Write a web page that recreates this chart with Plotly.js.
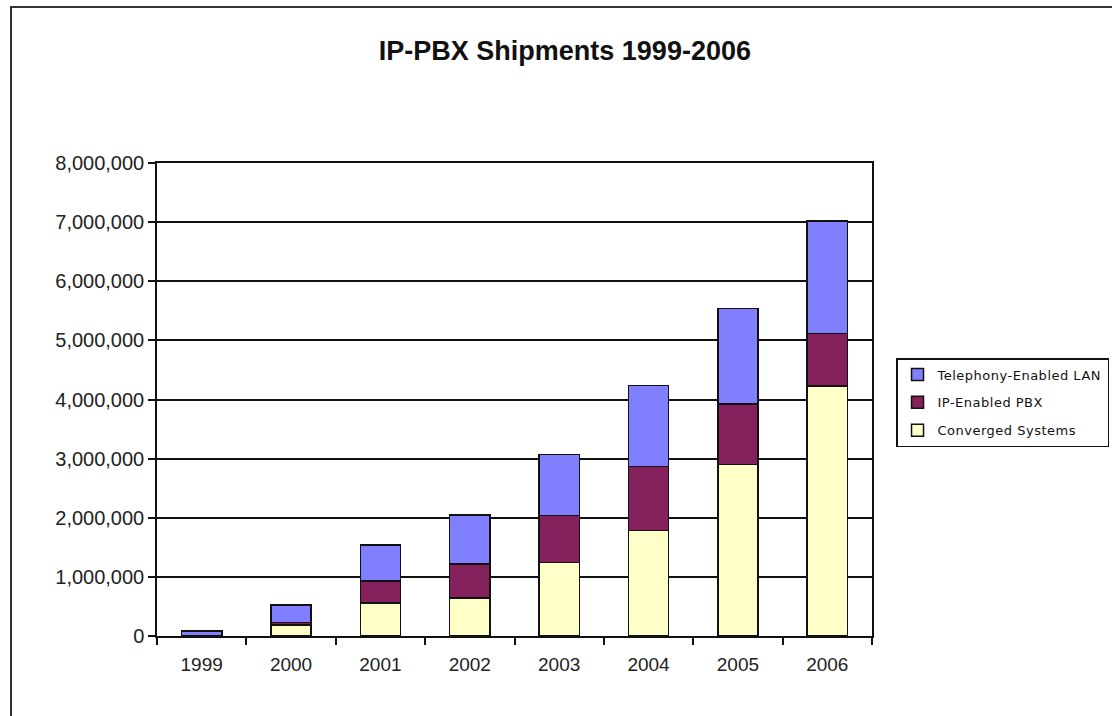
<!DOCTYPE html>
<html>
<head>
<meta charset="utf-8">
<script src="https://cdn.plot.ly/plotly-3.0.1.min.js"></script>
<style>
  html, body { margin: 0; padding: 0; background: #fff; overflow: hidden; }
  #chart { position: absolute; left: 0; top: 0; width: 1112px; height: 716px; }
  #frame { position: absolute; left: 10px; top: 6px; width: 1130px; height: 740px;
           border: 2px solid #333; pointer-events: none; box-sizing: border-box; }
  .legendtext { letter-spacing: 0.5px; }
</style>
</head>
<body>
<div id="chart"></div>
<div id="frame"></div>
<script>
const years = ['1999', '2000', '2001', '2002', '2003', '2004', '2005', '2006'];
const convergedSystems = [0, 190000, 555000, 640000, 1245000, 1785000, 2900000, 4225000];
const ipEnabledPBX = [0, 40000, 377000, 580000, 797000, 1085000, 1020000, 895000];
const telephonyEnabledLAN = [85000, 295000, 605000, 826000, 1028000, 1370000, 1620000, 1900000];
const yTickVals = [0, 1000000, 2000000, 3000000, 4000000, 5000000, 6000000, 7000000, 8000000];
const yTickText = ['0', '1,000,000', '2,000,000', '3,000,000', '4,000,000', '5,000,000', '6,000,000', '7,000,000', '8,000,000'];

const lineStyle = { color: '#111', width: 1.5 };
const traces = [
  { name: 'Converged Systems', y: convergedSystems, color: '#FFFFC8', group: 'c', rank: 3 },
  { name: 'IP-Enabled PBX', y: ipEnabledPBX, color: '#84205C', group: 'b', rank: 2 },
  { name: 'Telephony-Enabled LAN', y: telephonyEnabledLAN, color: '#8080FF', group: 'a', rank: 1 }
].map(t => ({
  type: 'bar',
  x: years,
  y: t.y,
  name: t.name,
  legendgroup: t.group,
  legendrank: t.rank,
  marker: { color: t.color, line: lineStyle },
  hoverinfo: 'x+y+name'
}));

const layout = {
  width: 1112,
  height: 716,
  paper_bgcolor: '#fff',
  plot_bgcolor: '#fff',
  margin: { l: 157, r: 240, t: 163, b: 80, autoexpand: false },
  barmode: 'stack',
  bargap: 0.55,
  title: {
    text: '<b>IP-PBX Shipments 1999-2006</b>',
    font: { family: 'Liberation Sans, Arial, sans-serif', size: 27, color: '#111' },
    x: 0.508, xanchor: 'center',
    y: 0.930, yanchor: 'middle'
  },
  xaxis: {
    type: 'category',
    showline: true, linecolor: '#111', linewidth: 1.5, mirror: true,
    ticks: 'outside', ticklen: 7, tickcolor: '#111', tickwidth: 1.5,
    tickson: 'boundaries',
    ticklabelstandoff: 10,
    showgrid: false,
    tickfont: { family: 'Liberation Sans, Arial, sans-serif', size: 19, color: '#222' },
    fixedrange: true
  },
  yaxis: {
    range: [0, 8000000],
    tickvals: yTickVals, ticktext: yTickText,
    showline: true, linecolor: '#111', linewidth: 1.5, mirror: true,
    ticks: 'outside', ticklen: 7, tickcolor: '#111', tickwidth: 1.5,
    showgrid: true, gridcolor: '#111', gridwidth: 1.5,
    zeroline: false,
    tickfont: { family: 'Liberation Sans, Arial, sans-serif', size: 20, color: '#222' },
    fixedrange: true
  },
  showlegend: true,
  legend: {
    x: 1.0336, xanchor: 'left',
    y: 0.5877, yanchor: 'top',
    traceorder: 'grouped',
    tracegroupgap: 8,
    bordercolor: '#111', borderwidth: 1.5,
    bgcolor: '#fff',
    font: { family: 'DejaVu Sans, sans-serif', size: 13, color: '#111' },
    itemclick: false, itemdoubleclick: false
  }
};

Plotly.newPlot('chart', traces, layout, { displayModeBar: false });
</script>
</body>
</html>
